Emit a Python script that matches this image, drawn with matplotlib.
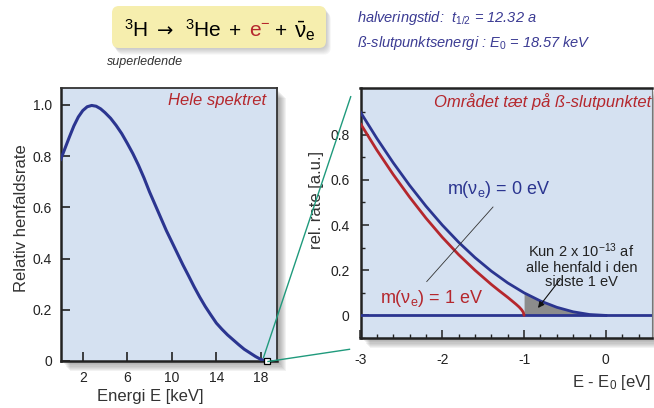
import matplotlib
matplotlib.use('Agg')
import matplotlib.pyplot as plt
import matplotlib.patches as patches
from matplotlib.lines import Line2D
from matplotlib.transforms import IdentityTransform

plt.rcParams['font.family'] = ['Liberation Sans', 'DejaVu Sans']
plt.rcParams['mathtext.fontset'] = 'custom'
plt.rcParams['mathtext.rm'] = 'Liberation Sans'
plt.rcParams['mathtext.it'] = 'Liberation Sans:italic'
plt.rcParams['mathtext.bf'] = 'Liberation Sans:bold'
plt.rcParams['axes.unicode_minus'] = False

# --- data ---
# full beta spectrum (left)
energy_kev = [0, 0.4, 0.8, 1.2, 1.6, 2.0, 2.4, 2.8, 3.2, 3.6, 4.0, 4.5, 5.0, 5.5, 6.0,
              6.5, 7.0, 7.5, 8.0, 8.5, 9.0, 9.5, 10.0, 10.5, 11.0, 11.5, 12.0, 12.5,
              13.0, 13.5, 14.0, 14.5, 15.0, 15.5, 16.0, 16.5, 17.0, 17.5, 18.0, 18.57]
rel_rate = [0.785, 0.83, 0.875, 0.918, 0.953, 0.978, 0.993, 0.998, 0.995, 0.985, 0.97,
            0.948, 0.92, 0.888, 0.85, 0.81, 0.765, 0.715, 0.66, 0.61, 0.56, 0.51, 0.465,
            0.42, 0.375, 0.333, 0.29, 0.25, 0.213, 0.18, 0.148, 0.124, 0.102, 0.083,
            0.064, 0.046, 0.032, 0.018, 0.006, 0.0]
left_xticks = [2, 6, 10, 14, 18]
left_yticks = [0, 0.2, 0.4, 0.6, 0.8, 1.0]
left_ylabels = ['0', '0.2', '0.4', '0.6', '0.8', '1.0']

# endpoint region (right)
de_m0 = [-3.0, -2.8, -2.6, -2.4, -2.2, -2.0, -1.8, -1.6, -1.4, -1.2, -1.0,
         -0.8, -0.6, -0.4, -0.2, 0.0]
rate_m0 = [0.9, 0.784, 0.676, 0.576, 0.484, 0.4, 0.324, 0.256, 0.196, 0.144, 0.1,
           0.064, 0.036, 0.016, 0.004, 0.0]
de_m1 = [-3.0, -2.8, -2.6, -2.4, -2.2, -2.0, -1.8, -1.6, -1.4, -1.3, -1.2, -1.15,
         -1.1, -1.06, -1.03, -1.01, -1.0]
rate_m1 = [0.849, 0.732, 0.624, 0.524, 0.431, 0.346, 0.269, 0.2, 0.137, 0.108, 0.08,
           0.065, 0.05, 0.037, 0.025, 0.014, 0.0]
right_xticks = [-3, -2, -1, 0]
right_xlabels = ['-3', '-2', '-1', '0']
right_yticks = [0, 0.2, 0.4, 0.6, 0.8]
right_ylabels = ['0', '0.2', '0.4', '0.6', '0.8']

# --- style ---
W, H = 654, 408
bg = '#d5e1f1'
blue = '#2b3590'
red = '#b5272d'
green = '#1f9a7c'
darkblue_txt = '#3b3b93'

fig = plt.figure(figsize=(W / 100, H / 100), dpi=100)
ident = IdentityTransform()


def ax_rect(l, t, r, b):
    return [l / W, 1 - b / H, (r - l) / W, (b - t) / H]


def shadow(l, t, r, b, n=9, alpha=0.07, dx=1.1, dy=1.1):
    for i in range(1, n + 1):
        rect = patches.Rectangle((l + i * dx, H - b - i * dy), r - l, b - t,
                                 transform=ident, facecolor='#505050', edgecolor='none',
                                 alpha=alpha, zorder=-2)
        fig.add_artist(rect)


def ftext(x, y, s, **kw):
    return fig.text(x, H - y, s, transform=ident, **kw)


# --- formula box ---
for i in range(1, 7):
    fig.add_artist(patches.FancyBboxPatch((112 + i * 0.8, H - 48 - i * 1.1), 214, 42,
                                          boxstyle='round,pad=0,rounding_size=7',
                                          transform=ident, facecolor='#606060',
                                          edgecolor='none', alpha=0.06, zorder=-2))
fig.add_artist(patches.FancyBboxPatch((112, H - 48), 214, 42,
                                      boxstyle='round,pad=0,rounding_size=7',
                                      transform=ident, facecolor='#f6eeae',
                                      edgecolor='none', zorder=-1))
base = 37
fs = 15
ftext(124, base, r'$^{3}$H', fontsize=fs, va='baseline')
ftext(157, base, '→', fontsize=fs - 1, va='baseline', family=['DejaVu Sans'])
ftext(185, base, r'$^{3}$He', fontsize=fs, va='baseline')
ftext(229, base, '+', fontsize=fs, va='baseline')
ftext(249, base, r'e$^{-}$', fontsize=fs, va='baseline', color=red)
ftext(275, base, '+', fontsize=fs, va='baseline')
ftext(294, base, r'$\bar{\mathrm{\nu}}_{\mathrm{e}}$', fontsize=fs + 1, va='baseline')
ftext(107, 62, 'superledende', fontsize=9, style='italic', color='#333333', va='center')

ftext(357, 18, r'halveringstid:  $\mathit{t}_{\mathit{1/2}}$ = 12.32 a', fontsize=10.5,
      style='italic', color=darkblue_txt, va='center')
ftext(357, 43, r'ß-slutpunktsenergi : $\mathit{E}_{\mathit{0}}$ = 18.57 keV', fontsize=10.5,
      style='italic', color=darkblue_txt, va='center')

# --- left panel: full spectrum ---
shadow(60.5, 88.3, 276.5, 361)
axL = fig.add_axes(ax_rect(60.5, 88.3, 276.5, 361))
axL.set_facecolor(bg)
axL.plot(energy_kev, rel_rate, color=blue, lw=2.2, solid_capstyle='round',
         solid_joinstyle='round', zorder=3)
axL.set_xlim(0, 19.4)
axL.set_ylim(0, 1.065)
axL.set_xticks(left_xticks)
axL.set_yticks(left_yticks)
axL.set_yticklabels(left_ylabels)
axL.tick_params(direction='in', length=6.5, width=1.2, color='#222222',
                labelsize=10, labelcolor='#222222')
axL.tick_params(axis='x', pad=7)
axL.tick_params(axis='y', pad=6)
for side in ['left', 'bottom']:
    axL.spines[side].set_linewidth(1.8)
    axL.spines[side].set_color('#222222')
for side in ['top', 'right']:
    axL.spines[side].set_linewidth(1.3)
    axL.spines[side].set_color('#333333')
axL.text(0.95, 0.955, 'Hele spektret', transform=axL.transAxes, ha='right', va='center',
         fontsize=12, style='italic', color=red)
# small zoom marker at endpoint
axL.plot([18.57], [0], marker='s', ms=4.5, mfc='white', mec='black', mew=0.9,
         clip_on=False, zorder=5)

ftext(22, 218, 'Relativ henfaldsrate', fontsize=12, rotation=90, ha='center',
      va='center', color='#333333')
ftext(150, 397, 'Energi E [keV]', fontsize=12, ha='center', va='center', color='#333333')

# --- right panel: endpoint region ---
shadow(360.5, 88, 652, 338)
axR = fig.add_axes(ax_rect(360.5, 88, 652, 338))
axR.set_facecolor(bg)
axR.set_xlim(-3, 0.564)
axR.set_ylim(-0.099, 1.007)
start = de_m0.index(-1.0)
axR.fill_between(de_m0[start:], rate_m0[start:], 0, color='#8c8c8c', lw=0, zorder=2)
axR.axhline(0, color=blue, lw=2, zorder=3)
axR.plot(de_m0, rate_m0, color=blue, lw=2, zorder=4)
axR.plot(de_m1, rate_m1, color=red, lw=2, solid_capstyle='round', zorder=4)

axR.set_xticks(right_xticks)
axR.set_xticklabels(right_xlabels)
axR.set_xticks([-3 + 0.2 * i for i in range(18)], minor=True)
axR.set_yticks(right_yticks)
axR.set_yticklabels(right_ylabels)
axR.set_yticks([-0.1 + 0.1 * i for i in range(11)], minor=True)
axR.tick_params(which='major', direction='in', length=5.5, width=1.1, color='#222222',
                labelsize=10, labelcolor='#222222')
axR.tick_params(which='minor', direction='in', length=3, width=1.0, color='#222222')
axR.tick_params(axis='x', which='major', pad=11)
axR.tick_params(axis='y', which='major', pad=8)
for side in ['left', 'bottom', 'top']:
    axR.spines[side].set_linewidth(1.8)
    axR.spines[side].set_color('#222222')
axR.spines['right'].set_linewidth(0.8)
axR.spines['right'].set_color('#777777')

axR.text(0.998, 0.945, 'Området tæt på ß-slutpunktet', transform=axR.transAxes,
         ha='right', va='center', fontsize=12, style='italic', color=red)
axR.text(-1.31, 0.556, r'm(ν$_{\mathrm{e}}$) = 0 eV', ha='center', va='center',
         fontsize=13, color=blue)
axR.text(-2.135, 0.077, r'm(ν$_{\mathrm{e}}$) = 1 eV', ha='center', va='center',
         fontsize=13, color=red)
axR.plot([-1.38, -2.19], [0.48, 0.15], color='#333333', lw=0.6, zorder=5)
axR.text(-0.30, 0.222, 'Kun 2 x 10$^{-13}$ af\nalle henfald i den\nsidste 1 eV',
         ha='center', va='center', fontsize=10.5, linespacing=1.05, color='#222222')
axR.annotate('', xy=(-0.83, 0.033), xytext=(-0.56, 0.159),
             arrowprops=dict(arrowstyle='-|>', color='#111111', lw=0.8,
                             mutation_scale=9, shrinkA=0, shrinkB=0), zorder=6)

ftext(317, 200, 'rel. rate [a.u.]', fontsize=12, rotation=90, ha='center', va='center',
      color='#333333')
ftext(651, 382, r'E - E$_{0}$ [eV]', fontsize=12, ha='right', va='center', color='#333333')

# --- zoom lines from endpoint to right panel ---
fig.add_artist(Line2D([263.5, 350.7], [H - 357.5, H - 96.7], transform=ident,
                      color=green, lw=1.0, zorder=6))
fig.add_artist(Line2D([268, 349.5], [H - 361.5, H - 349.3], transform=ident,
                      color=green, lw=1.0, zorder=6))

fig.savefig('out.png', dpi=100, facecolor='white')
